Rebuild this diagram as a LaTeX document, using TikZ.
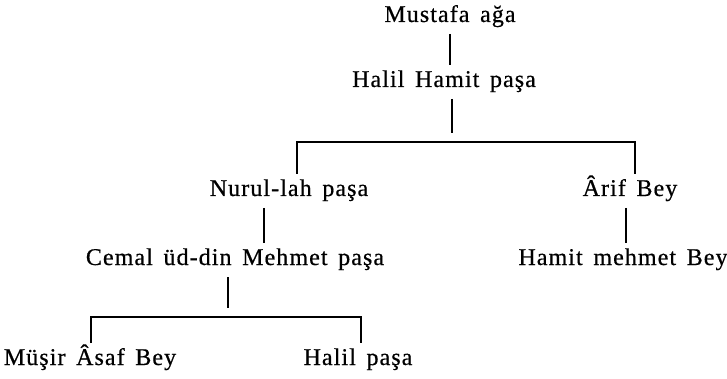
\documentclass[tikz,border=0pt]{standalone}
\usepackage{fontspec}
\setmainfont{Liberation Serif}[LetterSpace=4.5, WordSpace=1.5, FakeBold=0.6]

\begin{document}
\begin{tikzpicture}[x=1pt,y=-1pt]
  \tikzset{person/.style={font=\fontsize{24}{28}\selectfont, anchor=base,
      inner sep=0pt, text height=16pt, text depth=6pt, outer sep=6pt},
    kin/.style={line width=1.1pt}}
  \useasboundingbox (0,0) rectangle (727,379);

  % generations, top to bottom
  \node[person] (mustafa) at (450,22) {Mustafa ağa};
  \node[person] (halil)   at (444,87) {Halil Hamit paşa};
  \node[person] (nurul)   at (289,196) {Nurul-lah paşa};
  \node[person] (arif)    at (630,196) {Ârif Bey};
  \node[person] (cemal)   at (235,265) {Cemal üd-din Mehmet paşa};
  \node[person] (hamit)   at (623,265) {Hamit mehmet Bey};
  \node[person] (musir)   at (90,365) {Müşir Âsaf Bey};
  \node[person] (halilp)  at (358,365) {Halil paşa};

  % bars
  \coordinate (bar1) at (452,142);
  \coordinate (bar2) at (228,317);

  \draw[kin] (mustafa.south) -- (mustafa.south |- halil.north);
  \draw[kin] ([xshift=8pt]halil.south) -- ([yshift=9pt]bar1);
  \draw[kin] ([xshift=8pt]nurul.north) |- (bar1) -| ([xshift=5pt]arif.north);
  \draw[kin] ([xshift=-25pt]nurul.south) -- ([xshift=-25pt]nurul.south |- cemal.north);
  \draw[kin] ([xshift=-4pt]arif.south) -- ([xshift=-4pt]arif.south |- hamit.north);
  \draw[kin] ([xshift=-7pt]cemal.south) -- ([yshift=9pt]bar2);
  \draw[kin] ([xshift=1pt]musir.north) |- (bar2) -| ([xshift=3pt]halilp.north);
\end{tikzpicture}
\end{document}
